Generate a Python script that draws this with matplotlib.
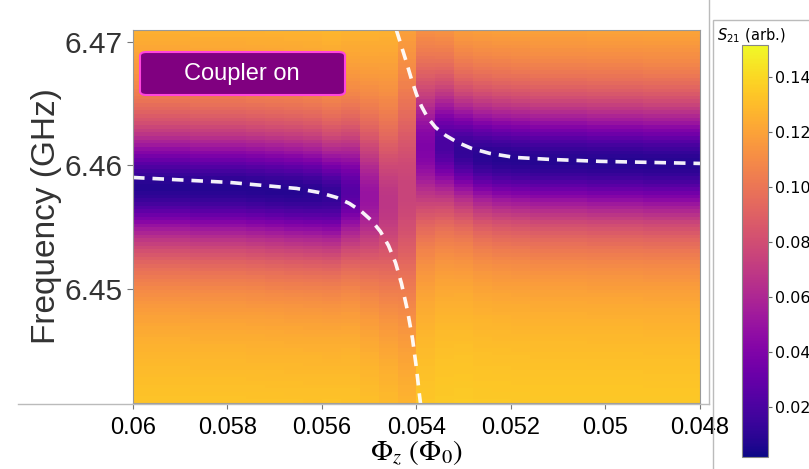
import numpy as np
import matplotlib
matplotlib.use("Agg")
import matplotlib.pyplot as plt
from matplotlib.patches import FancyBboxPatch, Rectangle
from matplotlib.lines import Line2D

plt.rcParams["mathtext.fontset"] = "stix"

# measured S21 columns: flux bias, dip centre (GHz), dip minimum, dip half-width (GHz)
col_flux = [0.0598, 0.0594, 0.0590, 0.0586, 0.0582, 0.0578, 0.0574, 0.0570, 0.0566, 0.0562,
            0.0558, 0.0554, 0.0550, 0.0546, 0.0542, 0.0538, 0.0534, 0.0530, 0.0526, 0.0522,
            0.0518, 0.0514, 0.0510, 0.0506, 0.0502, 0.0498, 0.0494, 0.0490, 0.0486, 0.0482]
dip_center = [6.4583, 6.4583, 6.4583, 6.4582, 6.4582, 6.4582, 6.4581, 6.4580, 6.4579, 6.4578,
              6.4576, 6.4579, 6.4575, 6.4570, 6.4580, 6.4615, 6.4617, 6.4612, 6.4608, 6.4606,
              6.4605, 6.4604, 6.4604, 6.4604, 6.4603, 6.4603, 6.4603, 6.4602, 6.4602, 6.4602]
dip_min = [0.008, 0.008, 0.008, 0.008, 0.008, 0.008, 0.008, 0.008, 0.008, 0.009,
           0.012, 0.025, 0.050, 0.068, 0.075, 0.040, 0.020, 0.012, 0.009, 0.008,
           0.008, 0.008, 0.008, 0.008, 0.008, 0.008, 0.008, 0.008, 0.008, 0.008]
dip_width = [0.0048, 0.0048, 0.0048, 0.0048, 0.0048, 0.0048, 0.0048, 0.0048, 0.0048, 0.0048,
             0.0048, 0.0052, 0.0062, 0.0075, 0.0095, 0.0062, 0.0052, 0.0048, 0.0048, 0.0048,
             0.0048, 0.0048, 0.0048, 0.0048, 0.0048, 0.0048, 0.0048, 0.0048, 0.0048, 0.0048]
background = 0.142

# fitted branches (dashed)
lower_flux = [0.06000, 0.05796, 0.05654, 0.05606, 0.055696, 0.055420, 0.055166, 0.054954, 0.054763,
              0.054594, 0.054445, 0.054318, 0.054191, 0.054085, 0.054000, 0.053936, 0.053915]
lower_freq = [6.45902, 6.45862, 6.45813, 6.45780, 6.45740, 6.45691, 6.45626, 6.45553, 6.45463,
              6.45350, 6.45211, 6.45041, 6.44821, 6.44593, 6.44350, 6.44130, 6.44065]
upper_flux = [0.054424, 0.054318, 0.054212, 0.054106, 0.054000, 0.053894, 0.053767, 0.053597,
              0.053385, 0.053131, 0.052834, 0.052453, 0.051923, 0.051181, 0.050120, 0.048000]
upper_freq = [6.47098, 6.46967, 6.46837, 6.46699, 6.46577, 6.46480, 6.46390, 6.46309,
              6.46244, 6.46187, 6.46138, 6.46098, 6.46065, 6.46049, 6.46033, 6.46016]

x_ticks = [0.06, 0.058, 0.056, 0.054, 0.052, 0.05, 0.048]
x_ticklabels = ["0.06", "0.058", "0.056", "0.054", "0.052", "0.05", "0.048"]
y_ticks = [6.45, 6.46, 6.47]
y_ticklabels = ["6.45", "6.46", "6.47"]
cb_ticks = [0.02, 0.04, 0.06, 0.08, 0.10, 0.12, 0.14]
cb_ticklabels = ["0.02", "0.04", "0.06", "0.08", "0.10", "0.12", "0.14"]

f_lo, f_hi = 6.4407, 6.4710
freq = np.arange(f_lo, f_hi, 0.0003)

Z = np.zeros((len(freq), len(col_flux)))
for j in range(len(col_flux)):
    g = dip_width[j]
    Z[:, j] = background - (background - dip_min[j]) * g**2 / ((freq - dip_center[j])**2 + g**2)

fig = plt.figure(figsize=(8.09, 4.69), dpi=100)
W, H = 809, 469

ax = fig.add_axes([133 / W, (H - 403) / H, (700 - 133) / W, (403 - 30) / H])
im = ax.imshow(Z, cmap="plasma", vmin=0.0018, vmax=0.1516, origin="lower", aspect="auto",
               extent=[0.06, 0.048, f_lo, f_hi], interpolation="nearest")
ax.plot(lower_flux, lower_freq, color="white", lw=2.6, dashes=(3.2, 2.2), alpha=0.95)
ax.plot(upper_flux, upper_freq, color="white", lw=2.6, dashes=(3.2, 2.2), alpha=0.95)
ax.set_xlim(0.06, 0.048)
ax.set_ylim(f_lo, f_hi)

ax.set_xticks(x_ticks)
ax.set_xticklabels(x_ticklabels, fontsize=17, family="Liberation Sans")
ax.set_yticks(y_ticks)
ax.set_yticklabels(y_ticklabels, fontsize=21.5, family="Liberation Sans", color="#333333")
ax.tick_params(color="#777777", length=4, width=0.8)
ax.tick_params(axis="x", pad=6)
for s in ax.spines.values():
    s.set_color("#999999")
    s.set_linewidth(0.8)

ax.set_ylabel("Frequency (GHz)", fontsize=24, family="Liberation Sans", color="#333333", labelpad=2)
ax.set_xlabel(r"$\Phi_z\ (\Phi_0)$", fontsize=21, labelpad=0)

box = FancyBboxPatch((140 / W, (H - 95) / H), 205 / W, 43 / H, boxstyle="round,pad=0,rounding_size=0.008",
                     transform=fig.transFigure, facecolor="#800080", edgecolor="#ff44dd", lw=1.5)
fig.patches.append(box)
fig.text(242 / W, (H - 74) / H, "Coupler on", color="white", fontsize=17, family="Liberation Sans",
         ha="center", va="center")

# frame lines around panels
fig.add_artist(Line2D([18 / W, 709 / W], [(H - 404) / H, (H - 404) / H], color="#bbbbbb", lw=1))
fig.add_artist(Line2D([709 / W, 709 / W], [(H - 404) / H, 1], color="#bbbbbb", lw=1))
fig.add_artist(Rectangle((713 / W, -0.01), 0.2, (H - 20) / H + 0.01, transform=fig.transFigure,
                         fill=False, edgecolor="#bbbbbb", lw=1))

cax = fig.add_axes([742 / W, (H - 457) / H, 26 / W, 412 / H])
cb = fig.colorbar(im, cax=cax, ticks=cb_ticks)
cb.ax.set_yticklabels(cb_ticklabels, fontsize=11.5)
cb.ax.tick_params(length=3, width=0.8, color="#666666", pad=2)
cb.outline.set_edgecolor("#888888")
cb.outline.set_linewidth(0.8)
fig.text(717 / W, (H - 36) / H, r"$S_{21}$ (arb.)", fontsize=10.5, ha="left", va="center",
         math_fontfamily="dejavusans")

fig.savefig("out.png", dpi=100)
